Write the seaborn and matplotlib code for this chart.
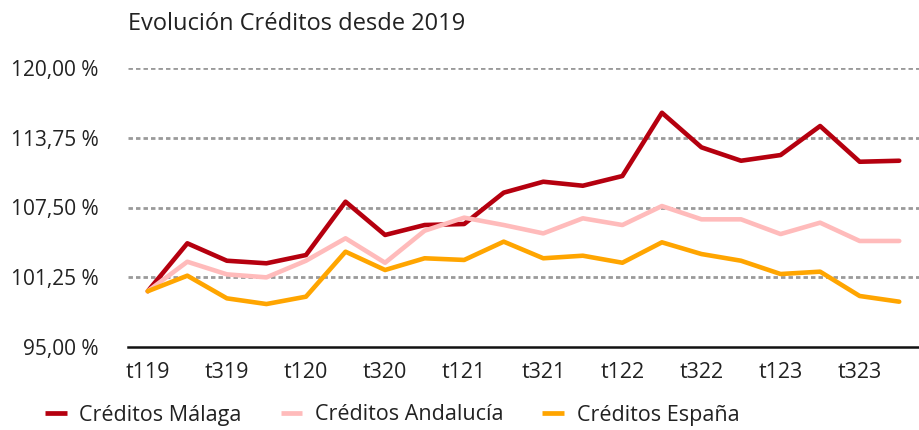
import matplotlib
matplotlib.use("Agg")
import matplotlib.pyplot as plt
import matplotlib.ticker as mticker
import seaborn as sns
import pandas as pd

quarters = ["t119", "t219", "t319", "t419", "t120", "t220", "t320", "t420",
            "t121", "t221", "t321", "t421", "t122", "t222", "t322", "t422",
            "t123", "t223", "t323", "t423"]
malaga = [100.0, 104.29, 102.73, 102.50, 103.24, 108.02, 105.04, 105.93, 106.02, 108.83,
          109.81, 109.45, 110.32, 115.99, 112.89, 111.69, 112.20, 114.80, 111.60, 111.69]
andalucia = [100.0, 102.64, 101.51, 101.24, 102.73, 104.74, 102.55, 105.42, 106.59, 105.93,
             105.18, 106.53, 105.93, 107.63, 106.44, 106.44, 105.12, 106.14, 104.50, 104.50]
espana = [100.0, 101.39, 99.36, 98.85, 99.51, 103.54, 101.90, 102.95, 102.80, 104.44,
          102.95, 103.18, 102.55, 104.38, 103.33, 102.73, 101.54, 101.75, 99.57, 99.06]
series_names = ["Créditos Málaga", "Créditos Andalucía", "Créditos España"]
colors = ["#B5000F", "#FFBBBB", "#FFA500"]
yticks = [95.0, 101.25, 107.5, 113.75, 120.0]

n = len(quarters)
df = pd.DataFrame({
    "idx": list(range(n)) * 3,
    "valor": malaga + andalucia + espana,
    "serie": [series_names[0]] * n + [series_names[1]] * n + [series_names[2]] * n,
})

sns.set_theme(style="white")
plt.rcParams['font.family'] = ['Open Sans', 'DejaVu Sans']

fig = plt.figure(figsize=(9.19, 4.30), dpi=100)
ax = fig.add_axes([128 / 919, (430 - 347) / 430, 1 - 128 / 919, (347 - 68) / 430])

for y in yticks[1:]:
    ax.axhline(y, color="#9a9a9a", lw=2.0, ls=(0, (1.6, 1.1)), zorder=0)

sns.lineplot(data=df, x="idx", y="valor", hue="serie", hue_order=series_names,
             palette=colors, linewidth=3.3, ax=ax, legend=True)

ax.set_xlim(-0.5, n - 0.5)
ax.set_ylim(95, 120)
ax.set_yticks(yticks)
ax.yaxis.set_major_formatter(mticker.FuncFormatter(lambda v, p: f"{v:.2f}".replace(".", ",") + " %"))
ax.set_xticks(range(0, n, 2))
ax.set_xticklabels(quarters[::2])
for lab in ax.get_xticklabels():
    lab.set_fontsize(15.5)
    lab.set_color("#222222")
for lab in ax.get_yticklabels():
    lab.set_fontsize(15)
    lab.set_color("#222222")
ax.tick_params(axis="both", length=0)
ax.tick_params(axis="y", pad=21)
ax.tick_params(axis="x", pad=11)
ax.set_xlabel("")
ax.set_ylabel("")
for s in ["top", "right", "left"]:
    ax.spines[s].set_visible(False)
ax.spines["bottom"].set_color("#111111")
ax.spines["bottom"].set_linewidth(1.8)

handles, labels = ax.get_legend_handles_labels()
ax.legend_.remove()
leg = fig.legend(handles, labels, loc="center left", bbox_to_anchor=(45 / 919, 1 - 415 / 430),
                 ncol=3, frameon=False, borderpad=0, borderaxespad=0,
                 handlelength=1.0, handletextpad=0.6, columnspacing=1.8,
                 prop={'size': 15.5})
for line in leg.get_lines():
    line.set_linewidth(3.4)
    line.set_solid_capstyle("butt")
for t in leg.get_texts():
    t.set_color("#222222")

fig.text(128 / 919, 1 - 30 / 430, "Evolución Créditos desde 2019", fontsize=17,
         color="#222222", ha="left", va="baseline")

fig.savefig("out.png", dpi=100)
